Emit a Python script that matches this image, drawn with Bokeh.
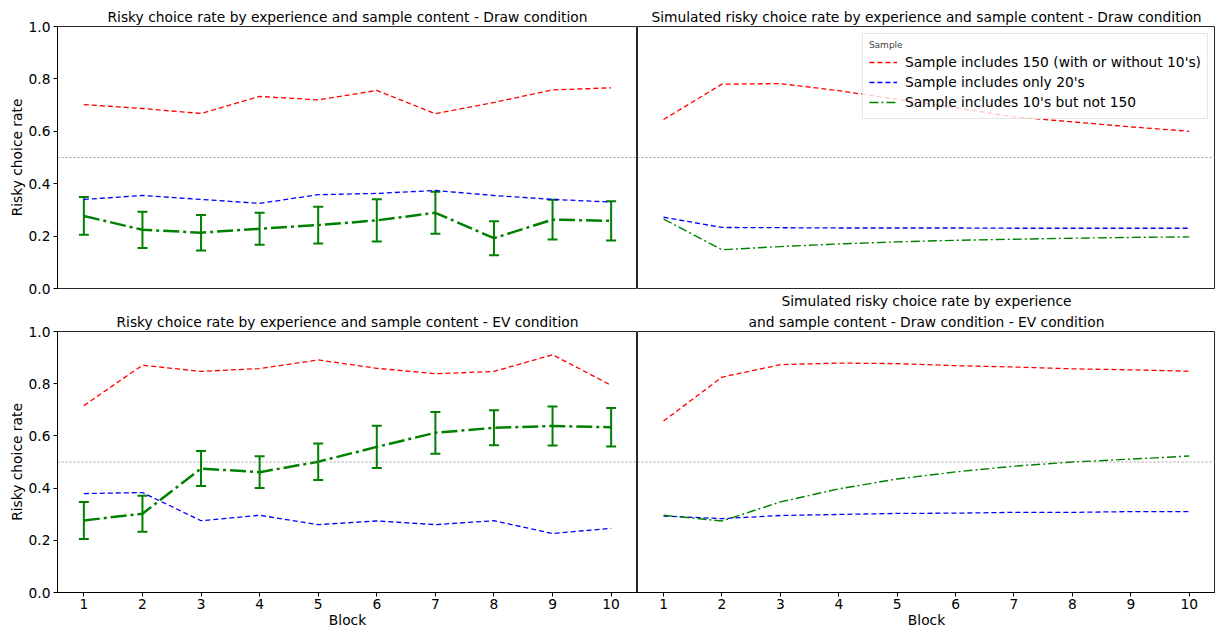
from bokeh.plotting import figure
from bokeh.layouts import gridplot
from bokeh.models import (ColumnDataSource, Whisker, Span, Legend, LegendItem, Title,
                          FixedTicker, Range1d, TeeHead, NumeralTickFormatter)
from bokeh.embed import file_html
from bokeh.resources import INLINE

# ---------------- data ----------------
blocks = [1, 2, 3, 4, 5, 6, 7, 8, 9, 10]
y_ticks = [0.0, 0.2, 0.4, 0.6, 0.8, 1.0]

legend_labels = ["Sample includes 150 (with or without 10's)",
                 "Sample includes only 20's",
                 "Sample includes 10's but not 150"]

# Draw condition - observed
draw_150 = [0.702, 0.687, 0.668, 0.733, 0.720, 0.756, 0.667, 0.710, 0.758, 0.766]
draw_20 = [0.340, 0.355, 0.340, 0.325, 0.358, 0.363, 0.374, 0.355, 0.340, 0.330]
draw_10 = [0.277, 0.224, 0.213, 0.228, 0.242, 0.260, 0.289, 0.192, 0.263, 0.258]
draw_10_err = [0.072, 0.069, 0.068, 0.061, 0.070, 0.081, 0.080, 0.065, 0.076, 0.075]

# Draw condition - simulated
sim_draw_150 = [0.645, 0.780, 0.782, 0.755, 0.722, 0.690, 0.655, 0.636, 0.617, 0.600]
sim_draw_20 = [0.272, 0.233, 0.232, 0.231, 0.231, 0.231, 0.230, 0.230, 0.230, 0.230]
sim_draw_10 = [0.265, 0.148, 0.160, 0.170, 0.178, 0.184, 0.188, 0.192, 0.195, 0.197]

# EV condition - observed
ev_150 = [0.716, 0.871, 0.847, 0.858, 0.891, 0.859, 0.838, 0.847, 0.911, 0.794]
ev_20 = [0.379, 0.383, 0.275, 0.296, 0.260, 0.274, 0.260, 0.275, 0.226, 0.246]
ev_10 = [0.276, 0.302, 0.475, 0.461, 0.501, 0.558, 0.612, 0.631, 0.638, 0.633]
ev_10_err = [0.071, 0.069, 0.067, 0.061, 0.070, 0.081, 0.080, 0.067, 0.075, 0.074]

# EV condition - simulated
sim_ev_150 = [0.657, 0.825, 0.873, 0.879, 0.877, 0.869, 0.864, 0.857, 0.853, 0.848]
sim_ev_20 = [0.293, 0.283, 0.295, 0.299, 0.303, 0.304, 0.307, 0.307, 0.310, 0.310]
sim_ev_10 = [0.296, 0.274, 0.347, 0.397, 0.435, 0.462, 0.484, 0.500, 0.511, 0.523]

title_tl = "Risky choice rate by experience and sample content - Draw condition"
title_tr = "Simulated risky choice rate by experience and sample content - Draw condition"
title_bl = "Risky choice rate by experience and sample content - EV condition"
title_br_1 = "Simulated risky choice rate by experience"
title_br_2 = "and sample content - Draw condition - EV condition"

FONT = "DejaVu Sans"
FS = "13.8px"

# borders (px)
B_LEFT = 57
W_LEFT_FRAME = 580
W_RIGHT_FRAME = 578
TOP_T, TOP_B = 26, 20
BOT_T, BOT_B = 19, 37
FH = 264


def mk_title(text, standoff=3):
    return Title(text=text, align="center", text_font=FONT, text_font_size=FS,
                 text_font_style="normal", text_color="black", standoff=standoff)


def make_fig(left, bottom):
    t, b = (BOT_T, BOT_B) if bottom else (TOP_T, TOP_B)
    p = figure(
        width=(B_LEFT + W_LEFT_FRAME) if left else W_RIGHT_FRAME,
        height=t + FH + b,
        x_range=Range1d(0.55, 10.45) if left else Range1d(0.554, 10.45),
        y_range=Range1d(0, 1),
        output_backend="svg", toolbar_location=None,
        x_axis_location="below" if bottom else None,
        y_axis_location="left" if left else None,
        min_border_left=B_LEFT if left else 0,
        min_border_right=0,
        min_border_top=t,
        min_border_bottom=b,
        background_fill_color="white", border_fill_color="white",
    )
    p.outline_line_color = "black"
    p.outline_line_width = 1
    p.outline_line_alpha = 0.85
    p.xgrid.visible = False
    p.ygrid.visible = False
    for ax in p.axis:
        ax.axis_line_color = "black"
        ax.major_tick_out = 4
        ax.major_tick_in = 0
        ax.minor_tick_line_color = None
        ax.major_label_standoff = 3
        ax.major_label_text_font = FONT
        ax.major_label_text_font_size = FS
        ax.major_label_text_color = "black"
        ax.axis_label_text_font = FONT
        ax.axis_label_text_font_size = FS
        ax.axis_label_text_font_style = "normal"
        ax.axis_label_text_color = "black"
    if bottom:
        p.xaxis.ticker = FixedTicker(ticks=blocks)
        p.xaxis.axis_label = "Block"
        p.xaxis.major_label_standoff = 2
        p.xaxis.axis_label_standoff = 0
    if left:
        p.yaxis.ticker = FixedTicker(ticks=y_ticks)
        p.yaxis.formatter = NumeralTickFormatter(format="0.0")
        p.yaxis.axis_label = "Risky choice rate"
        p.yaxis.axis_label_standoff = 1
    p.add_layout(Span(location=0.5, dimension="width", line_color="#888888",
                      line_width=0.8, line_dash="2 2"))
    return p


def add_lines(p, v150, v20, v10, err=None):
    r1 = p.line(blocks, v150, line_color="red", line_width=1.3, line_dash="5 3")
    r2 = p.line(blocks, v20, line_color="blue", line_width=1.3, line_dash="5 3")
    if err is None:
        r3 = p.line(blocks, v10, line_color="green", line_width=1.4, line_dash="9 3 2 3")
    else:
        r3 = p.line(blocks, v10, line_color="green", line_width=2.5, line_dash="16 4 3 4")
        src = ColumnDataSource(dict(x=blocks,
                                    upper=[v + e for v, e in zip(v10, err)],
                                    lower=[v - e for v, e in zip(v10, err)]))
        p.add_layout(Whisker(base="x", upper="upper", lower="lower", source=src,
                             line_color="green", line_width=2,
                             upper_head=TeeHead(size=10, line_color="green", line_width=2),
                             lower_head=TeeHead(size=10, line_color="green", line_width=2)))
    return r1, r2, r3


p1 = make_fig(True, False)
p1.add_layout(mk_title(title_tl), "above")
add_lines(p1, draw_150, draw_20, draw_10, draw_10_err)

p2 = make_fig(False, False)
p2.add_layout(mk_title(title_tr), "above")
# first line of the lower-right panel's two-line title sits in the gap between rows
p2.add_layout(mk_title(title_br_1, standoff=4), "below")
rs = add_lines(p2, sim_draw_150, sim_draw_20, sim_draw_10)
legend = Legend(items=[LegendItem(label=lab, renderers=[r]) for lab, r in zip(legend_labels, rs)],
                location="top_right", title="Sample")
legend.title_text_font = FONT
legend.title_text_font_size = "9px"
legend.title_text_font_style = "normal"
legend.title_standoff = 2
legend.label_text_font = FONT
legend.label_text_font_size = FS
legend.label_text_color = "black"
legend.glyph_width = 28
legend.glyph_height = 20
legend.label_height = 20
legend.label_standoff = 8
legend.spacing = 0
legend.padding = 6
legend.margin = 7
legend.border_line_color = "#cccccc"
legend.background_fill_alpha = 0.8
p2.add_layout(legend)

p3 = make_fig(True, True)
p3.add_layout(mk_title(title_bl), "above")
add_lines(p3, ev_150, ev_20, ev_10, ev_10_err)

p4 = make_fig(False, True)
p4.add_layout(mk_title(title_br_2), "above")
add_lines(p4, sim_ev_150, sim_ev_20, sim_ev_10)

grid = gridplot([[p1, p2], [p3, p4]], toolbar_location=None)

open("out.html", "w").write(file_html(grid, INLINE))
